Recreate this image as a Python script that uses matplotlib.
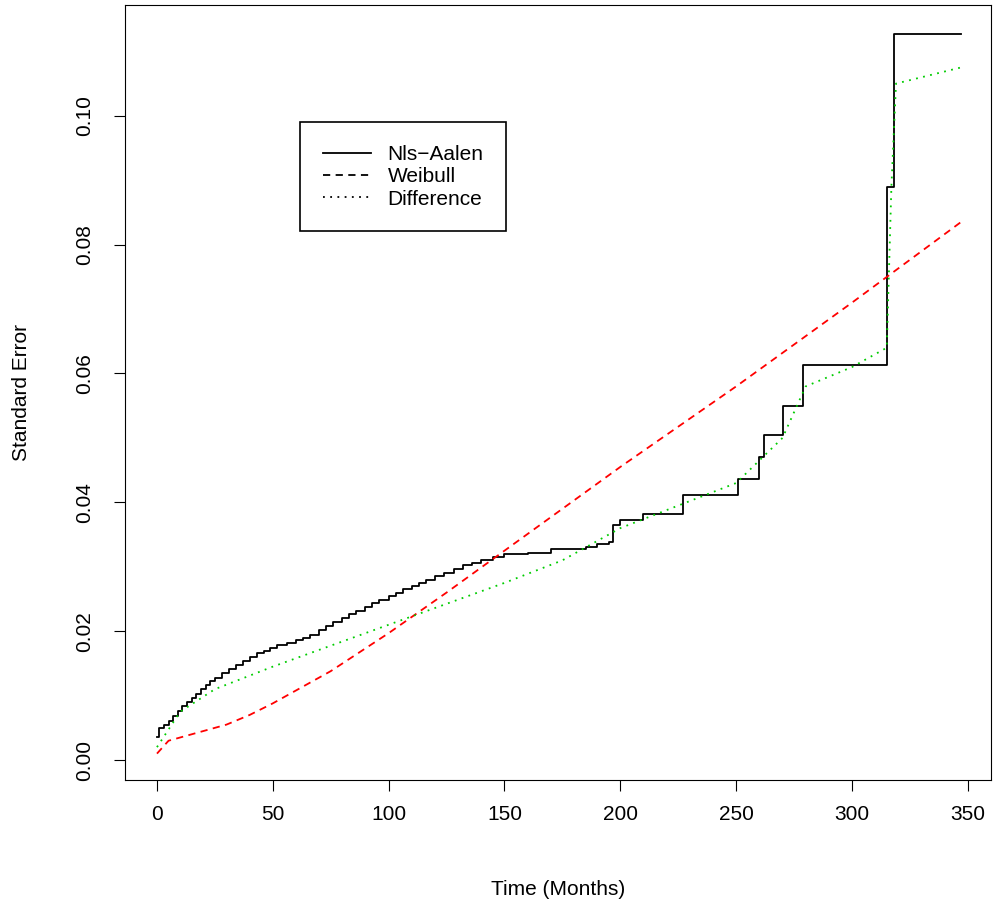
import matplotlib.pyplot as plt
from matplotlib.lines import Line2D

plt.rcParams["font.family"] = "Liberation Sans"

# Nelson-Aalen standard error (step function)
na_t = [0, 1, 3, 5, 7, 9, 11, 13, 15, 17, 19, 21, 23, 25, 28, 31, 34, 37, 40, 43, 46, 49,
        52, 56, 60, 63, 66, 70, 73, 76, 80, 83, 86, 90, 93, 96, 100, 103, 106, 110, 113,
        116, 120, 124, 128, 132, 136, 140, 145, 150, 160, 170, 185, 190, 195, 197, 200,
        210, 227, 251, 260, 262, 270, 279, 315, 316, 318, 347]
na_se = [0.0035, 0.005, 0.0055, 0.006, 0.0068, 0.0076, 0.0084, 0.009, 0.0096, 0.0103,
         0.011, 0.0117, 0.0123, 0.0128, 0.0135, 0.0142, 0.0148, 0.0154, 0.016, 0.0166,
         0.017, 0.0174, 0.0178, 0.0182, 0.0186, 0.019, 0.0194, 0.0202, 0.0208, 0.0214,
         0.022, 0.0226, 0.0232, 0.0238, 0.0244, 0.0249, 0.0255, 0.026, 0.0266, 0.027,
         0.0275, 0.028, 0.0285, 0.029, 0.0296, 0.0302, 0.0306, 0.031, 0.0315, 0.032,
         0.0322, 0.0328, 0.033, 0.0335, 0.0338, 0.0365, 0.0372, 0.0382, 0.0412, 0.0437,
         0.047, 0.0505, 0.055, 0.0613, 0.089, 0.089, 0.1127, 0.1127]

# Weibull standard error
wb_t = [0, 5, 20, 30, 40, 50, 75, 100, 125, 150, 200, 250, 300, 347]
wb_se = [0.001, 0.003, 0.0045, 0.0055, 0.007, 0.0088, 0.0138, 0.0197, 0.026, 0.0325,
         0.0455, 0.058, 0.071, 0.0835]

# Difference
df_t = [0, 10, 25, 50, 100, 150, 175, 200, 250, 270, 280, 300, 315, 317, 319, 347]
df_se = [0.002, 0.0075, 0.011, 0.0145, 0.021, 0.0275, 0.031, 0.036, 0.043, 0.05, 0.058,
         0.061, 0.064, 0.089, 0.105, 0.1075]

fig = plt.figure(figsize=(9.96, 9.07), dpi=100)
ax = fig.add_axes([0.1255, 0.14, 0.8695, 0.8545])
ax.step(na_t, na_se, where="post", color="black", lw=1.3)
ax.plot(wb_t, wb_se, color="red", ls=(0, (4, 3)), lw=1.3)
ax.plot(df_t, df_se, color="#00CC00", ls=(0, (1, 3)), lw=1.3)

ax.set_xlim(-13.8, 360)
ax.set_ylim(-0.0031, 0.1172)
ax.set_xticks([0, 50, 100, 150, 200, 250, 300, 350])
ax.set_yticks([0.0, 0.02, 0.04, 0.06, 0.08, 0.10])
ax.set_yticklabels(["0.00", "0.02", "0.04", "0.06", "0.08", "0.10"], rotation=90, va="center")
ax.tick_params(labelsize=15, length=8)
ax.tick_params(axis="y", pad=14)
ax.tick_params(axis="x", pad=10)
ax.set_xlabel("Time (Months)", fontsize=15, labelpad=40)
ax.set_ylabel("Standard Error", fontsize=15, labelpad=32)

handles = [Line2D([], [], color="black", lw=1.3),
           Line2D([], [], color="black", ls=(0, (4, 3)), lw=1.3),
           Line2D([], [], color="black", ls=(0, (1, 3)), lw=1.3)]
leg = ax.legend(handles, ["Nls\u2212Aalen", "Weibull", "Difference"], loc="upper left",
                bbox_to_anchor=(0.19, 0.862), fontsize=15, fancybox=False, framealpha=1,
                edgecolor="black", handlelength=2.3, labelspacing=0.15, borderpad=1.1)
leg.get_frame().set_linewidth(1.2)

fig.savefig("out.png", dpi=100)
